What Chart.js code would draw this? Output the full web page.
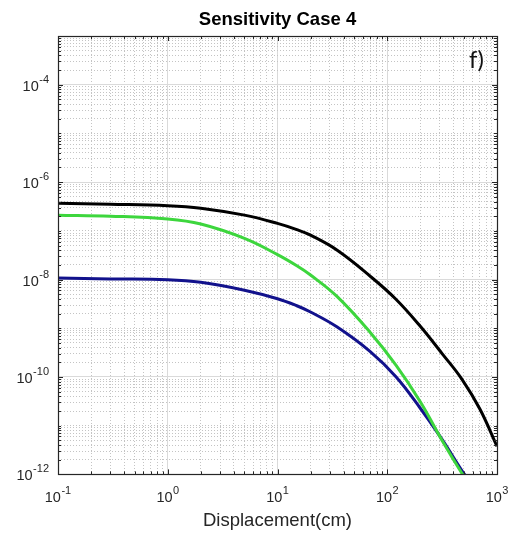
<!DOCTYPE html>
<html>
<head>
<meta charset="utf-8">
<script src="https://cdn.jsdelivr.net/npm/chart.js@4"></script>
<style>
html, body { margin: 0; padding: 0; background: #fff; }
#wrap { width: 524px; height: 540px; }
</style>
</head>
<body>
<div id="wrap"><canvas id="sensChart" width="524" height="540"></canvas></div>
<script>
// Displacement (cm) sample positions
const displacement = [0.1, 0.3, 1, 2, 5, 10, 15, 20, 35, 70, 120, 200, 320, 480, 700, 1000];

// Curves
const blackCurve = [3.7e-7, 3.53e-7, 3.29e-7, 2.92e-7, 2.1e-7, 1.42e-7, 1.06e-7, 8.15e-8, 4.0e-8, 1.17e-8, 3.95e-9, 1.1e-9, 2.92e-10, 8.95e-11, 2.17e-11, 3.77e-12];
const greenCurve = [2.1e-7, 2.0e-7, 1.75e-7, 1.38e-7, 7.0e-8, 3.25e-8, 1.92e-8, 1.24e-8, 4.46e-9, 8.2e-10, 1.75e-10, 3.09e-11, 4.72e-12, 1.04e-12, 2.83e-13, 7.4e-14];
const blueCurve  = [1.07e-8, 1.03e-8, 9.93e-9, 8.77e-9, 6.04e-9, 4.04e-9, 2.9e-9, 2.16e-9, 1.06e-9, 3.32e-10, 1.01e-10, 2.28e-11, 5.0e-12, 1.19e-12, 3.7e-13, 1.1e-13];

// Axis decades and labels
const xDecades = [-1, 0, 1, 2, 3];
const yDecades = [-12, -11, -10, -9, -8, -7, -6, -5, -4, -3];
const xLabelExps = [-1, 0, 1, 2, 3];
const yLabelExps = [-12, -10, -8, -6, -4];
const minorSteps = [2, 3, 4, 5, 6, 7, 8, 9];

const TEXT = '#262626';
const FONT = '"Liberation Sans", Arial, sans-serif';

function buildLogTicks(decades, labelled) {
    const ticks = [];
    decades.forEach((e, i) => {
        ticks.push({ value: Math.pow(10, e), major: labelled.includes(e) });
        if (i < decades.length - 1) {
            minorSteps.forEach(m => ticks.push({ value: m * Math.pow(10, e), major: false }));
        }
    });
    return ticks;
}

function toPoints(values) {
    return displacement.map((x, i) => ({ x: x, y: values[i] }));
}

function gridColor(ctx) {
    return ctx.tick && ctx.tick.major ? '#dadada' : '#c4c4c4';
}
function gridDash(ctx) {
    return ctx.tick && ctx.tick.major ? [] : [1, 2];
}

// draws "10" with a raised exponent
function drawPow(ctx, xPos, baseY, exp, align) {
    const expText = String(exp);
    ctx.font = '14.5px ' + FONT;
    const wBase = ctx.measureText('10').width;
    ctx.font = '11px ' + FONT;
    const wExp = ctx.measureText(expText).width;
    const total = wBase + wExp + 0.5;
    const left = align === 'center' ? xPos - total / 2 : xPos - total;
    ctx.textAlign = 'left';
    ctx.textBaseline = 'alphabetic';
    ctx.font = '14.5px ' + FONT;
    ctx.fillText('10', left, baseY);
    ctx.font = '11px ' + FONT;
    ctx.fillText(expText, left + wBase + 0.5, baseY - 8);
}

const axisDecor = {
    id: 'axisDecor',
    afterDatasetsDraw(chart) {
        const { ctx, chartArea: a, scales } = chart;
        ctx.save();
        ctx.strokeStyle = TEXT;
        ctx.lineWidth = 1;
        ctx.beginPath();
        scales.x.ticks.forEach(t => {
            const px = Math.round(scales.x.getPixelForValue(t.value)) + 0.5;
            const len = t.major ? 5 : 3;
            ctx.moveTo(px, a.bottom); ctx.lineTo(px, a.bottom - len);
            ctx.moveTo(px, a.top); ctx.lineTo(px, a.top + len);
        });
        scales.y.ticks.forEach(t => {
            const py = Math.round(scales.y.getPixelForValue(t.value)) + 0.5;
            const len = t.major ? 5 : 3;
            ctx.moveTo(a.left, py); ctx.lineTo(a.left + len, py);
            ctx.moveTo(a.right, py); ctx.lineTo(a.right - len, py);
        });
        ctx.stroke();
        ctx.lineWidth = 1.2;
        ctx.strokeRect(Math.round(a.left) + 0.5, Math.round(a.top) + 0.5,
            Math.round(a.right - a.left), Math.round(a.bottom - a.top));
        ctx.restore();
    },
    afterDraw(chart) {
        const { ctx, chartArea: a, scales } = chart;
        ctx.save();
        ctx.fillStyle = TEXT;
        xLabelExps.forEach(e => {
            drawPow(ctx, scales.x.getPixelForValue(Math.pow(10, e)), a.bottom + 28, e, 'center');
        });
        yLabelExps.forEach(e => {
            drawPow(ctx, a.left - 9, scales.y.getPixelForValue(Math.pow(10, e)) + 6, e, 'right');
        });
        // panel tag
        ctx.fillStyle = '#111';
        ctx.font = '24px Lato, "Open Sans", sans-serif';
        ctx.textAlign = 'left';
        ctx.textBaseline = 'alphabetic';
        ctx.fillText('f)', a.right - 28, a.top + 32);
        ctx.restore();
    }
};

const lineStyle = {
    borderWidth: 3,
    pointRadius: 0,
    fill: false,
    tension: 0.4,
    clip: 0
};

new Chart(document.getElementById('sensChart'), {
    type: 'line',
    data: {
        datasets: [
            Object.assign({ label: 'green', data: toPoints(greenCurve), borderColor: '#3dd63d' }, lineStyle),
            Object.assign({ label: 'blue', data: toPoints(blueCurve), borderColor: '#12128c' }, lineStyle),
            Object.assign({ label: 'black', data: toPoints(blackCurve), borderColor: '#000000' }, lineStyle)
        ]
    },
    options: {
        responsive: false,
        animation: false,
        layout: { padding: { left: 58, right: 27, top: 0, bottom: 0 } },
        plugins: {
            legend: { display: false },
            tooltip: { enabled: false },
            title: {
                display: true,
                text: 'Sensitivity Case 4',
                color: '#000',
                fullSize: false,
                font: { size: 18.5, weight: 'bold', family: FONT },
                padding: { top: 9, bottom: 4.8 }
            }
        },
        scales: {
            x: {
                type: 'logarithmic',
                min: 0.1,
                max: 1000,
                afterBuildTicks: s => { s.ticks = buildLogTicks(xDecades, xLabelExps); },
                ticks: { display: false, autoSkip: false },
                grid: { color: gridColor, lineWidth: 1, drawTicks: false },
                border: { display: false, dash: gridDash },
                title: {
                    display: true,
                    text: 'Displacement(cm)',
                    color: TEXT,
                    font: { size: 18.5, family: FONT },
                    padding: { top: 35.4, bottom: 8 }
                }
            },
            y: {
                type: 'logarithmic',
                min: 1e-12,
                max: 1e-3,
                afterBuildTicks: s => { s.ticks = buildLogTicks(yDecades, yLabelExps); },
                ticks: { display: false, autoSkip: false },
                grid: { color: gridColor, lineWidth: 1, drawTicks: false },
                border: { display: false, dash: gridDash }
            }
        }
    },
    plugins: [axisDecor]
});
</script>
</body>
</html>
